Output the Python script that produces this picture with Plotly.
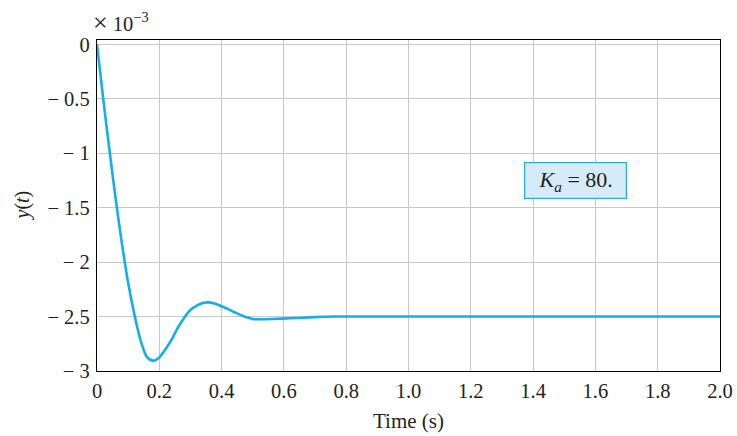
import plotly.graph_objects as go

# time (s)
t_vals = [0.0, 0.02, 0.04, 0.06, 0.08, 0.10, 0.12, 0.14, 0.16, 0.18, 0.20, 0.22, 0.24,
          0.26, 0.28, 0.30, 0.32, 0.34, 0.36, 0.38, 0.40, 0.42, 0.44, 0.46, 0.48, 0.50,
          0.52, 0.56, 0.62, 0.70, 0.76, 0.90, 1.2, 1.6, 2.0]
# y(t) in units of 1e-3
y_vals = [0.0, -0.50, -0.97, -1.42, -1.83, -2.19, -2.48, -2.72, -2.87, -2.905, -2.875, -2.80, -2.71,
          -2.60, -2.51, -2.44, -2.40, -2.375, -2.37, -2.382, -2.405, -2.43, -2.458, -2.485, -2.507, -2.522,
          -2.525, -2.523, -2.516, -2.505, -2.50, -2.50, -2.50, -2.50, -2.50]

x_tickvals = [0, 0.2, 0.4, 0.6, 0.8, 1.0, 1.2, 1.4, 1.6, 1.8, 2.0]
x_ticktext = ["0", "0.2", "0.4", "0.6", "0.8", "1.0", "1.2", "1.4", "1.6", "1.8", "2.0"]
y_tickvals = [0, -0.5, -1, -1.5, -2, -2.5, -3]
y_ticktext = ["0", "− 0.5", "− 1", "− 1.5", "− 2", "− 2.5", "− 3"]

font_family = "Liberation Serif, Times New Roman, serif"
txt_color = "#231f20"

fig = go.Figure()
fig.add_trace(go.Scatter(x=t_vals, y=y_vals, mode="lines",
                         line=dict(color="#14aee8", width=2.6, shape="spline", smoothing=0.8),
                         showlegend=False, hoverinfo="skip"))

axis_common = dict(showgrid=True, gridcolor="#c8c8c8", gridwidth=1,
                   showline=True, linecolor="black", linewidth=1.3, mirror=True,
                   zeroline=False, ticks="", automargin=False, ticklabeloverflow="allow",
                   tickfont=dict(family=font_family, size=20.5, color=txt_color))

fig.update_xaxes(range=[0, 2.0], tickvals=x_tickvals, ticktext=x_ticktext, ticklabelstandoff=1,
                 **axis_common)
fig.update_yaxes(range=[-3, 0.04], tickvals=y_tickvals, ticktext=y_ticktext, ticklabelstandoff=2,
                 **axis_common)

# axis titles
fig.add_annotation(x=0.5, y=0, xref="paper", yref="paper", xanchor="center", yanchor="middle",
                   yshift=-50, text="Time (s)", showarrow=False,
                   font=dict(family=font_family, size=21, color=txt_color))
fig.add_annotation(x=0, y=0.5, xref="paper", yref="paper", xanchor="center", yanchor="middle",
                   xshift=-75, text="<i>y</i>(<i>t</i>)", showarrow=False, textangle=-90,
                   font=dict(family=font_family, size=20, color=txt_color))

fig.add_annotation(x=1.5345, y=-1.252, xref="x", yref="y",
                   text="<i>K</i><sub><i>a</i></sub> = 80.", showarrow=False,
                   font=dict(family=font_family, size=22, color=txt_color),
                   bgcolor="#d5ebf8", bordercolor="#2aa9e0", borderwidth=1.2,
                   width=97, height=31, borderpad=2)

fig.add_annotation(x=0, y=1, xref="paper", yref="paper", xanchor="left", yanchor="middle",
                   xshift=-6, yshift=18,
                   text="<span style='font-size:26px'>×</span> 10<sup>−3</sup>", showarrow=False,
                   font=dict(family=font_family, size=20.5, color=txt_color))

fig.update_layout(width=737, height=436,
                  margin=dict(l=97, r=17, t=39.5, b=64.5, pad=0),
                  plot_bgcolor="white", paper_bgcolor="white")

fig.write_html("out.html",
               config={"displayModeBar": False},
               post_script="document.body.style.margin='0';"
                           "document.body.style.overflow='hidden';"
                           "document.documentElement.style.overflow='hidden';")
